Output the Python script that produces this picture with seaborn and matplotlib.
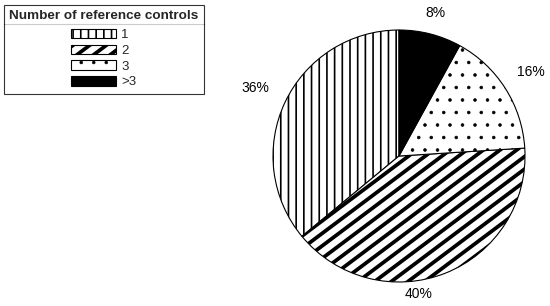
import matplotlib
matplotlib.use("Agg")
import numpy as np
import matplotlib.pyplot as plt
import matplotlib.hatch as mhatch
from matplotlib.path import Path
from matplotlib.lines import Line2D
import seaborn as sns

# ---------------- data ----------------
categories = ["1", "2", "3", ">3"]
values = [36, 40, 16, 8]
pct_labels = ["36%", "40%", "16%", "8%"]

# ---------------- styles ----------------
hatches = ["||", "//", ".", ""]
fills = ["white", "white", "white", "black"]
hatch_widths = [1.2, 2.7, 0.5, 0.5]
label_dist = [1.26, 1.11, 1.24, 1.17]     # radial distance of each % label
label_nudge = [0.0, -13.6, 0.0, 0.0]     # angular nudge (deg) of each % label


# ---------- custom hatch textures resembling the original ----------
class VLines(mhatch.HatchPatternBase):
    def __init__(self, hatch, density):
        self.num_lines = int((hatch.count('|') + hatch.count('+')) * 6.5)
        self.num_vertices = self.num_lines * 2

    def set_vertices_and_codes(self, vertices, codes):
        steps, stepsize = np.linspace(0.0, 1.0, self.num_lines, False, retstep=True)
        steps += stepsize / 2.
        vertices[0::2, 0] = steps
        vertices[0::2, 1] = 0.0
        vertices[1::2, 0] = steps
        vertices[1::2, 1] = 1.0
        codes[0::2] = Path.MOVETO
        codes[1::2] = Path.LINETO


class Stripes(mhatch.HatchPatternBase):
    """Stripes of slope 3/4 that tile seamlessly."""
    def __init__(self, hatch, density):
        n = hatch.count('/') + hatch.count('x') + hatch.count('X')
        if n:
            k = 4 * n
            self.cs = np.arange(-2 * k, k + 1) / k
            self.num_vertices = len(self.cs) * 2
        else:
            self.cs = np.array([])
            self.num_vertices = 0

    def set_vertices_and_codes(self, vertices, codes):
        x0, x1 = -0.5, 1.5
        vertices[0::2, 0] = x0
        vertices[0::2, 1] = self.cs + 0.75 * x0
        vertices[1::2, 0] = x1
        vertices[1::2, 1] = self.cs + 0.75 * x1
        codes[0::2] = Path.MOVETO
        codes[1::2] = Path.LINETO


class Dots(mhatch.SmallFilledCircles):
    size = 0.11

    def __init__(self, hatch, density):
        super().__init__(hatch, 8)


mhatch._hatch_types = [
    {mhatch.VerticalHatch: VLines,
     mhatch.NorthEastHatch: Stripes,
     mhatch.SmallFilledCircles: Dots}.get(t, t)
    for t in mhatch._hatch_types
]

sns.set_style("white")
plt.rcParams['font.family'] = ['Liberation Sans', 'DejaVu Sans']

W, H = 550, 306
fig = plt.figure(figsize=(W / 100, H / 100), dpi=100)
cx, cy, R = 399, 306 - 156, 126
ax = fig.add_axes([(cx - R) / W, (cy - R) / H, 2 * R / W, 2 * R / H])

wedges, _ = ax.pie(values, startangle=90, counterclock=True, colors=fills,
                   wedgeprops=dict(edgecolor="black", linewidth=0.8))
for w, h, hw in zip(wedges, hatches, hatch_widths):
    w.set_hatch(h)
    w.set_hatch_linewidth(hw)
ax.set_xlim(-1, 1)
ax.set_ylim(-1, 1)
ax.set_aspect("equal")

for w, lab, d, nud in zip(wedges, pct_labels, label_dist, label_nudge):
    ang = np.deg2rad((w.theta1 + w.theta2) / 2 + nud)
    ax.text(d * np.cos(ang), d * np.sin(ang), lab, ha="center", va="center",
            fontsize=10, color="black", clip_on=False)

fs = 9.5
leg = fig.legend(wedges, categories, title="Number of reference controls",
                 loc="upper left", bbox_to_anchor=(4 / W, 1 - 5 / H),
                 fontsize=fs, title_fontproperties=dict(weight="bold", size=9.7),
                 frameon=True, fancybox=False, edgecolor="black",
                 handlelength=3.4, handleheight=0.72, handletextpad=0.4,
                 labelspacing=0.26, borderpad=0.4, borderaxespad=0)
leg._legend_box.sep = 4.8
leg.get_frame().set_linewidth(0.8)
for hnd, hw in zip(leg.legend_handles, hatch_widths):
    hnd.set_hatch_linewidth(hw)
    hnd.set_linewidth(0.8)

fig.canvas.draw()
r = fig.canvas.get_renderer()
fb = leg.get_frame().get_window_extent(r)
tb = leg.get_title().get_window_extent(r)
yl = tb.y0 - 2
fig.add_artist(Line2D([fb.x0 / W, fb.x1 / W], [yl / H, yl / H],
                      color="black", linewidth=0.8, transform=fig.transFigure))

fig.savefig("out.png", dpi=100)
